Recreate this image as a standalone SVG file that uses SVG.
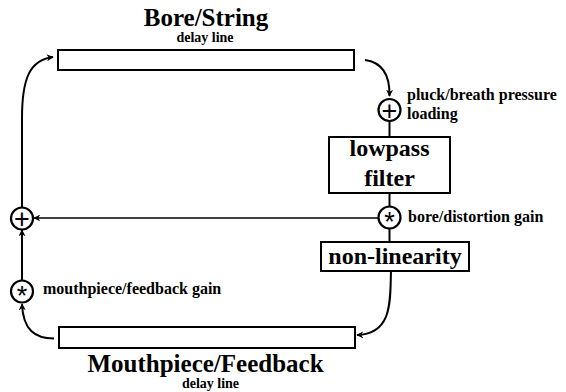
<svg xmlns="http://www.w3.org/2000/svg" width="566" height="392" viewBox="0 0 566 392">
<defs>
<marker id="ah" viewBox="0 0 10 10" refX="9" refY="5" markerWidth="7" markerHeight="7" markerUnits="userSpaceOnUse" orient="auto">
<path d="M0,0 L10,5 L0,10 L3,5 Z" fill="#000"/>
</marker>
<style>
text{font-family:"Liberation Serif","Times New Roman",serif;font-weight:bold;fill:#000}
.big{font-size:25px}
.box{font-size:24px}
.lbl{font-size:16px}
.sm{font-size:14px}
.sym{font-size:27px;font-weight:normal;font-family:"Liberation Sans",Arial,sans-serif}
rect{fill:#fff;stroke:#000;stroke-width:2}
circle{fill:#fff;stroke:#000;stroke-width:2.2}
.c path,.c line{fill:none;stroke:#000;stroke-width:2}
.c .thin{stroke-width:1.5}
</style>
</defs>
<g id="connectors" class="c">
<path d="M22,207 L22,118 C22,78 30,60 53,57" marker-end="url(#ah)"/>
<path d="M365,60 C380,62 390,72 389.5,96" marker-end="url(#ah)"/>
<line x1="389.5" y1="121" x2="389.5" y2="137"/>
<line x1="389.5" y1="193" x2="389.5" y2="206"/>
<line x1="389.5" y1="228.5" x2="389.5" y2="242"/>
<line class="thin" x1="378" y1="218" x2="34" y2="218" marker-end="url(#ah)"/>
<path d="M391,271 C390,300 393,334 357,335" marker-end="url(#ah)"/>
<path d="M54,338.5 C35,338.5 23,330 22,304" marker-end="url(#ah)"/>
<line x1="22" y1="280.5" x2="22" y2="230" marker-end="url(#ah)"/>
</g>
<g id="bore-delay">
<rect x="58" y="50" width="296" height="20"/>
<text class="big" x="206" y="26" text-anchor="middle">Bore/String</text>
<text class="sm" x="205" y="41.5" text-anchor="middle">delay line</text>
</g>
<g id="pluck-sum">
<circle cx="389.5" cy="110" r="11"/>
<text class="sym" x="389.5" y="119.5" text-anchor="middle">+</text>
<text class="lbl" x="407" y="100">pluck/breath pressure</text>
<text class="lbl" x="407" y="119">loading</text>
</g>
<g id="lowpass">
<rect x="329" y="137" width="121" height="56"/>
<text class="box" x="389.5" y="156" text-anchor="middle">lowpass</text>
<text class="box" x="389.5" y="186" text-anchor="middle">filter</text>
</g>
<g id="bore-gain">
<circle cx="389.5" cy="217.5" r="11"/>
<text class="sym" x="389.5" y="231" text-anchor="middle">*</text>
<text class="lbl" x="408" y="222">bore/distortion gain</text>
</g>
<g id="nonlinearity">
<rect x="321" y="242" width="148" height="29"/>
<text class="box" x="395" y="264" text-anchor="middle">non-linearity</text>
</g>
<g id="mouth-gain">
<circle cx="22" cy="291.5" r="11"/>
<text class="sym" x="22" y="305" text-anchor="middle">*</text>
<text class="lbl" x="43" y="294">mouthpiece/feedback gain</text>
</g>
<g id="sum">
<circle cx="22" cy="218.5" r="11"/>
<text class="sym" x="22" y="228" text-anchor="middle">+</text>
</g>
<g id="mouth-delay">
<rect x="59" y="327" width="296" height="21"/>
<text class="big" x="205.5" y="372" text-anchor="middle">Mouthpiece/Feedback</text>
<text class="sm" x="210.5" y="388.3" text-anchor="middle">delay line</text>
</g>
</svg>
